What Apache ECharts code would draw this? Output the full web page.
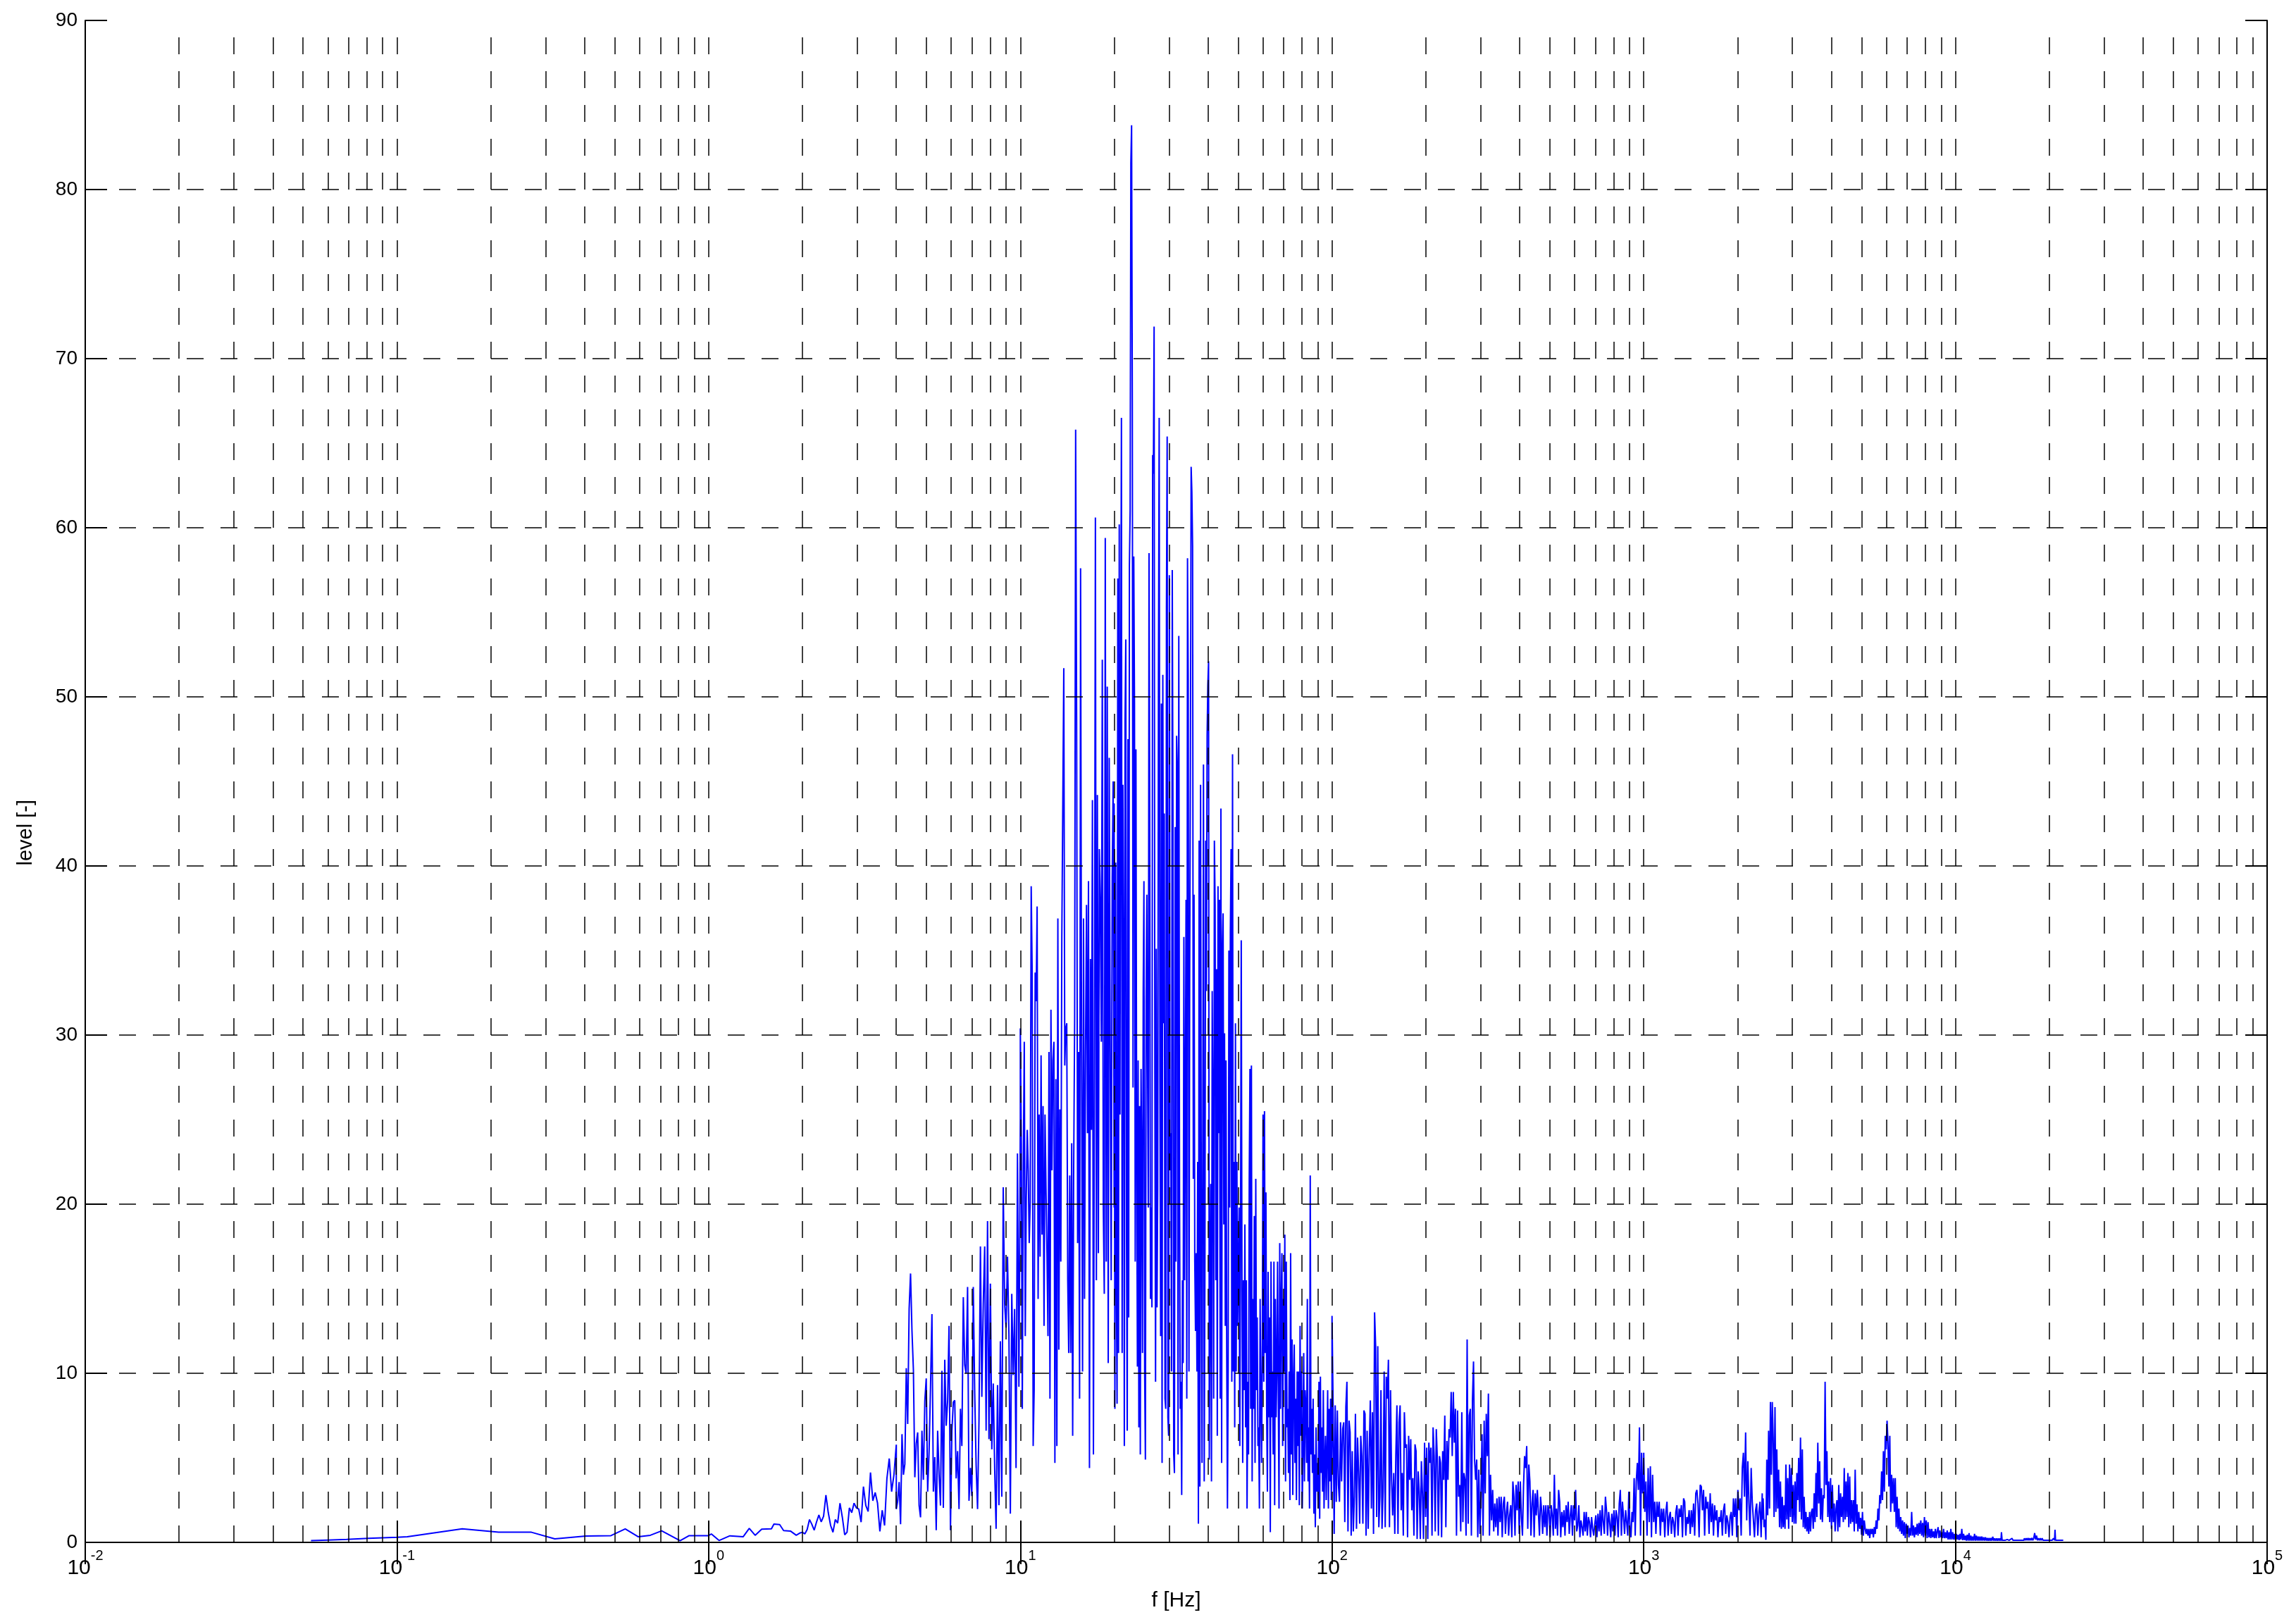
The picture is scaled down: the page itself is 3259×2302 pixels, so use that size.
<!DOCTYPE html>
<html>
<head>
<meta charset="utf-8">
<script src="https://cdn.jsdelivr.net/npm/echarts@6/dist/echarts.min.js"></script>
<style>
  html, body { margin: 0; padding: 0; background: #fff; }
  #chart { width: 3259px; height: 2302px; }
</style>
</head>
<body>
<div id="chart"></div>
<script>
// low frequency part, vertices read one by one
const lowFreq = [0.053, 0.06, 0.069, 0.081, 0.1, 0.108, 0.162, 0.212, 0.27, 0.321, 0.404, 0.486, 0.54, 0.595, 0.65, 0.707, 0.81, 0.866, 1.0, 1.02, 1.08, 1.17, 1.29, 1.35, 1.41, 1.48, 1.59, 1.62, 1.69, 1.74, 1.83, 1.91, 1.96]
const lowLevel = [0.1, 0.14, 0.18, 0.24, 0.3, 0.33, 0.8, 0.6, 0.6, 0.21, 0.37, 0.4, 0.8, 0.33, 0.42, 0.68, 0.1, 0.4, 0.4, 0.5, 0.11, 0.39, 0.33, 0.83, 0.42, 0.78, 0.8, 1.08, 1.05, 0.7, 0.67, 0.42, 0.55]

// dense parts: levels read left to right, evenly spread (log) over each band
const lv2to4 = [0.6, 0.5, 0.76, 1.35, 1.07, 0.72, 1.21, 1.62, 1.21, 1.55, 2.8, 1.76, 1.0, 0.6, 1.35, 1.14, 2.32, 1.48, 0.45, 0.6, 2.04, 1.76, 2.32, 2.04, 1.97, 1.2, 3.3, 2.18, 1.83, 4.13, 2.46, 2.95, 2.32, 0.65, 1.9, 1.0, 3.78, 4.96, 3.0, 4.0, 5.78]
const lv4to10 = [1.97, 2.46, 3.57, 1.07, 6.4, 4.0, 4.63, 10.3, 7.0, 13.8, 15.9, 12.5, 10.2, 3.85, 5.85, 6.5, 2.18, 1.48, 6.6, 3.7, 8.35, 9.7, 3.0, 5.4, 9.2, 13.5, 3.0, 5.04, 0.72, 6.6, 4.0, 2.18, 10.15, 2.04, 10.8, 6.9, 8.35, 12.8, 0.72, 6.6, 8.3, 8.4, 3.78, 5.4, 1.97, 7.9, 5.7, 14.5, 10.5, 10.0, 15.1, 2.46, 4.4, 2.74, 15.1, 8.85, 4.55, 1.97, 7.2, 17.5, 8.6, 14.1, 17.5, 6.6, 19, 6.1, 15.3, 5.5, 9.4, 4.4, 0.8, 9.3, 2.2, 11.9, 2.7, 21, 14.1, 12.7, 16.9, 12.3, 1.7, 14.7, 9.9, 13.8, 4.4, 23, 9.2, 25]
const lv10to20 = [30.4, 23.6, 7.9, 22.3, 29.6, 12.2, 20.4, 24.4, 22, 17.7, 20.1, 38.8, 33.7, 5.7, 9, 33.7, 32, 37.6, 14.4, 25.3, 16.9, 28.8, 18.2, 25.8, 12.8, 25.3, 20.9, 17.1, 12.2, 29, 8.5, 31.5, 22, 28.5, 29.6, 4.7, 27.4, 5.7, 36.9, 11.4, 25.6, 16.6, 35.8, 43.7, 51.7, 28.2, 30.4, 30.7, 15.5, 11.2, 21.7, 11.2, 23.6, 6.3, 22, 30.9, 65.8, 48.8, 17.7, 29, 8.5, 57.6, 28.8, 10.1, 36.9, 14.4, 29, 37.7, 24.2, 39.1, 4.4, 34.5, 24.4, 43.9, 5.2, 27.4, 60.6, 15.5, 44.2, 17.1, 41, 38, 29.6, 52.2, 19.8, 14.7, 59.4, 16.6, 50.6, 10.6, 46.4, 29, 15.5, 39.3, 45, 19.8]
const lv20to100 = [
  43.7, 7.9, 40.2, 16, 8.2, 57, 11.2, 60.2, 25.3, 49.6, 66.5, 11.2, 44.8, 34.5, 5.7, 48.6, 53.4, 18.2, 6.6, 47.5, 13.3, 57.8, 61, 81.6, 83.8, 67.3, 26.9, 58.3, 49.6, 16.6, 46.9, 23.6, 10.4, 28.5, 6.8, 25.8, 5.2, 28, 22.5, 11.2, 32.6, 39.1, 10.1, 4.9, 32, 38.3, 28, 19.8, 58.5, 41.8, 14.4, 19.8, 13.9, 64.3, 63.2, 71.9, 27.7, 9.5, 35.1, 13.9, 20.9, 51.5, 66.5, 27.4, 12.2, 49.6, 4.7, 51.3, 30.7, 43.1, 8.5, 7.9, 55.3,
  65.4, 7.4, 6.3, 57.2, 22, 24.2, 10.1, 57.5, 42.6, 5.2, 4.1, 42.3, 16.6, 47.7, 45.9, 5.2, 53.6, 20.9, 7.9, 9.5, 2.8, 15.5, 10.6, 35.8, 15.5, 25.8, 38, 8.5, 58.2, 51, 10.1, 33.4, 45.9, 63.6, 62.1, 58.9, 21.5, 38.3, 16.6, 12.5, 17.1, 10.1, 22.5, 1.1, 41.5, 3.3, 44.8, 19.3, 4.7, 23.1, 46, 3.6, 16.6, 41.5, 32.6, 47.7,
  50.7, 52.1, 4.9, 15, 21.2, 3.6, 32.6, 25.3, 8.5, 41.5, 37.7, 15.5, 33.9, 6.3, 38.8, 24.2, 38, 8.5, 43.4, 4.7, 35.1, 37.2, 18.8, 30.1, 12.8, 28.5, 11.2, 2, 10.1, 35, 19.8, 36.1, 41, 9.5, 46.6, 10.1, 22.5, 6.8, 30.7, 10.1, 22.5, 12.8,
  16, 19.8, 5.7, 18.2, 35.6, 15, 4.7, 15.5, 9, 18.8, 6.8, 15.5, 2, 9.5, 5.2, 21.5, 28, 7.9, 28.2, 3.6, 14.4, 7.9, 19.3, 4.7, 21.5, 9, 13.3, 5.7, 6.8, 2, 14.4, 8.5, 4.7, 11.7, 25.3,
  9.5, 25.5, 11.2, 20.7, 7.9, 3, 16, 7.4, 13.3, 0.6, 16.6, 7.4, 10.1, 5.2, 16.6, 2.2, 14.4, 7.4, 10.1, 16.6, 9, 2, 17.7, 7.9, 14.4, 17.1, 5.7, 14.4, 10.1, 18.2, 3.6, 16.6, 6.8, 7.9, 4.1, 10.1, 2.5, 17.1, 5.2, 12, 2.8, 9.5, 11.7, 4.7, 8.5, 2.5, 10.1, 5.7, 10.1, 2.2, 12.8, 6.3, 10.1, 2, 5.7, 11.2, 3.6, 9, 7.9, 4.7, 14.4, 3.6, 6.8, 2, 21.7, 5.2, 7.9, 4.1, 8.5, 1.7, 5.2, 0.9, 6.8, 3, 4.7, 2, 9.5, 1.4, 9.8, 4.1, 6.8, 3, 9, 2, 4.7, 6.3, 2.5, 5.2, 9, 2, 7.9, 3.6, 8.5, 2.5, 5.7
]
const lv100to1k = [
  13.4, 8.2, 0.5, 8.1, 2.4, 7.8, 3.4, 2.4, 7.1, 3.6, 6.7, 7.1, 1.2, 8, 9.5, 0.65, 7.2, 6.5, 0.4, 5.4, 0.65, 2.7, 7.6, 0.8, 6.2, 4.2, 1.1, 6.3, 5.1, 1.1, 7.8, 7.6, 0.4, 6.6, 0.8, 5.5, 8.4, 2, 7.7, 0.5, 13.6, 11.6, 1.5, 11.6, 0.9, 2.7, 9, 0.8, 3, 10.1, 0.9, 9.8, 8.5, 10.8, 0.9, 9, 3.7, 1.6, 4.1, 0.5, 5.2, 8.1, 0.5, 7.1, 8.1, 1.9, 4.1, 0.4, 7.7, 5.6, 5.8, 0.3, 6.3, 3.7, 6.1, 1.9, 3.8, 0.4, 5.8, 5.4, 0.2, 4.2, 3, 0.2, 4.8, 2.9, 0.2, 5.9,
  1.5, 5.6, 0.2, 5.9, 4.7, 5.6, 0.4, 6.8, 5.1, 0.65, 6.7, 4.9, 0.4, 5.1, 4.7, 0.3, 5.4, 3.7, 7.5, 0.9, 6, 3.7, 6.7, 6.2, 8.9, 5.1, 8.9, 5.9, 7.9, 0.4, 7.8, 2.7, 3.4, 0.65, 7.7, 1.2, 4.1, 3.7, 0.4, 12, 1.1, 7.5, 7.9, 0.4, 8.4, 10.7, 4.9, 3.7, 4.9, 0.3, 4.3, 0.5, 2.7, 6.4, 0.4, 7.2, 2.9, 7.6, 5.1, 8.8, 0.4, 4,
  1.3, 3.1, 0.65, 2.3, 0.9, 2.6, 0.4, 2.7, 1.2, 2.7, 0.3, 2.3, 2.7, 0.5, 1.8, 2.4, 0.4, 1.6, 2.2, 0.3, 3.6, 2.7, 0.4, 3.4, 1.9, 3.6, 0.5, 3.6, 1.5, 0.4, 3.3, 5.1, 4.4, 5.7, 0.8, 4.6, 3.6, 0.4, 2.3, 3.1, 0.3, 2.9, 1.6, 3.1, 3.1, 0.4, 2.7, 1.9, 0.5, 2.2, 0.9, 2.2, 0.4, 2.2, 1.9, 0.3, 2.2, 1.6, 0.4, 4, 0.8, 2, 0.4, 3.1, 2.4, 0.3, 1.8, 0.9, 1.9, 0.4, 2.2, 1.2, 2.4, 0.5, 1.6, 2.2, 0.4, 2.2, 1.3, 3.1, 0.65, 1, 2.2, 0.3, 1.3, 0.9, 0.4, 1.8, 0.65, 1.8, 0.4, 1.5, 1.2, 0.3, 1.5, 0.8, 0.4, 1.1, 1.6, 0.3, 1.7, 0.65, 1.9, 0.4, 2.2, 1.2, 0.5, 2.7, 1.9, 0.4, 1.8, 1.2, 0.3, 1.7, 0.65, 1.9, 0.4, 1.9, 1.5, 0.3, 2.3, 3.1, 0.4, 2.4, 1.5, 0.5, 1.9, 1.2, 0.4, 3, 0.9, 0.3, 1.8, 1.2, 3.8, 0.4, 3.6, 4.7, 3.1, 6.8, 0.4, 5.3, 2.9, 3.7
]
const lv1kto2k4 = [5.3, 1.8, 3.6, 0.4, 4.4, 1.2, 4.5, 0.3, 4, 1.2, 2.4, 0.5, 2.4, 1.5, 2.4, 0.4, 2, 1.2, 2, 0.3, 1.8, 2.4, 0.4, 1.5, 1.8, 0.5, 1.5, 1.2, 0.3, 1.8, 2.2, 0.4, 2, 1.5, 2.2, 0.3, 2.6, 2.4, 0.4, 1.5, 1.1, 1.9, 0.5, 1.9, 0.9, 2.3, 0.4, 2.9, 3.1, 2.3, 0.3, 3.4, 3.3, 1.9, 3.1, 0.4, 2.7, 2, 2.4, 0.5, 2.9, 1.2, 2.3, 0.4, 2.2, 1.3, 1.9, 0.3, 1.5, 1.2, 1.9, 0.4, 1.9, 2.3, 0.5, 1.6, 1.2, 0.3, 1.5, 1.8, 0.4, 2.6, 1.5, 2.6, 0.3, 3.1, 1.9, 2.6, 0.4, 4.4, 5.3, 2.7, 6.5, 1.3, 4.8, 2.3, 0.4, 4.4, 2.4, 2.4, 0.3, 1.9, 2.3, 0.4, 1.8, 2.4, 0.3, 2.9]
const lv2k4to14k = [1.35, 2.6, 0.9, 1.35, 0.15, 4.9, 1.6, 6.6, 2, 8.3, 4, 8.3, 6.2, 1.5, 8, 1.8, 5.5, 2, 4.3, 0.9, 3.6, 0.8, 2.7, 0.9, 2.2, 0.8, 4.6, 1.35, 3.8, 0.8, 4.6, 1.5, 4.4, 1.2, 3.4, 1.1, 3.6, 1.1, 4.1, 2.5, 5, 1.8, 6.2, 1.35, 5.5, 0.9, 2.7, 0.8, 1.8, 0.65, 1.5, 0.5, 1.8, 0.65, 1.8, 2, 0.8, 2.9, 1.2, 4.1, 1.5, 5.9, 2.3, 4.8, 1.35, 3.2, 1.2, 2.8, 2.6, 9.5, 3.4, 5.4, 1.5, 3.6, 1.2, 3.8, 0.8, 3.4, 1.2, 2.3, 0.65, 2, 2.5, 0.65, 3.4, 0.9, 2.9, 1.5, 2.7, 1.2, 4.4, 1.35, 3.6, 1.5, 4.1, 0.9, 3.9, 1.1, 2.5, 1.2, 2.5, 0.65, 4.3, 1.1, 2.25, 0.65, 1.8, 0.8, 1.45, 0.45, 1.8, 0.4, 1.3, 0.8, 0.5, 0.8, 0.4, 0.8, 0.25, 0.8, 0.5, 0.8, 0.3, 0.9, 0.5, 1.3, 0.8, 2, 1.3, 2.8, 2.3, 4.2, 2.5, 5.4, 3, 6.3, 5.5, 7.2, 5.9, 3.3, 6.3, 1.8, 4, 2.3, 3.8, 1.8, 3.8, 0.9, 2.7, 0.8, 2, 0.65, 1.5, 0.5, 1.3, 0.4, 1.2, 0.25, 1.1, 0.5, 1, 0.3, 0.85, 0.4, 1.8, 0.4, 1, 0.3, 0.9, 0.45, 1.1, 0.4, 1.15, 0.5, 1.3, 0.4, 1.15, 0.3, 1.5, 0.4, 1.3, 0.25, 1.2, 0.3, 0.8, 0.25, 0.8, 0.3, 0.65, 0.25, 0.8, 0.25, 0.65, 0.9, 0.25, 0.7, 0.3, 0.6, 0.25, 0.8, 0.25, 0.6, 0.25, 0.7, 0.17, 0.6, 0.17, 0.8, 0.17, 0.6, 0.17, 0.5, 0.13, 0.5, 0.17, 0.45, 0.13, 0.5, 0.17, 0.8, 0.13, 0.5, 0.13, 0.4, 0.1, 0.45, 0.1, 0.55, 0.1, 0.4, 0.1, 0.35, 0.1, 0.5, 0.1, 0.4, 0.1, 0.35, 0.1, 0.35, 0.1, 0.35, 0.1, 0.3, 0.1, 0.3, 0.1, 0.26, 0.1, 0.26, 0.1, 0.26, 0.1, 0.33, 0.1, 0.24, 0.1, 0.24, 0.1, 0.24, 0.1, 0.24, 0.1]

// high frequency tail, vertices read one by one
const tailFreq = [14050, 14120, 14420, 14670, 14770, 14870, 15190, 15300, 16580, 16640, 16750, 16870, 16990, 17100, 17220, 17340, 17460, 17580, 17710, 17830, 17960, 18080, 18210, 18330, 18460, 18590, 18720, 18850, 18980, 19110, 19250, 20420, 20630, 20730, 20800, 20870, 20950, 22180]
const tailLevel = [0.6, 0.12, 0.12, 0.17, 0.24, 0.12, 0.24, 0.12, 0.12, 0.24, 0.12, 0.24, 0.12, 0.26, 0.12, 0.24, 0.12, 0.26, 0.12, 0.24, 0.55, 0.17, 0.4, 0.12, 0.24, 0.12, 0.24, 0.12, 0.24, 0.12, 0.12, 0.12, 0.24, 0.3, 0.12, 0.75, 0.12, 0.12]

const bands = [
  [2, 4, lv2to4],
  [4, 10, lv4to10],
  [10, 20, lv10to20],
  [20, 100, lv20to100],
  [100, 1000, lv100to1k],
  [1000, 2400, lv1kto2k4],
  [2400, 14000, lv2k4to14k],
]

const yTicks = [0, 10, 20, 30, 40, 50, 60, 70, 80, 90]

const points = []
lowFreq.forEach((f, i) => points.push([f, lowLevel[i]]))
bands.forEach(([fa, fb, lv]) => {
  const n = lv.length
  lv.forEach((v, i) => {
    points.push([fa * Math.pow(fb / fa, i / (n - 1)), v])
  })
})
tailFreq.forEach((f, i) => points.push([f, tailLevel[i]]))

// grid lines at 1..9 x 10^k, drawn on top like the original
const vLines = []
for (let e = -2; e <= 4; e++) {
  for (let m = 1; m <= 9; m++) {
    const v = m * Math.pow(10, e)
    if (v > 0.0100001 && v < 99999) vLines.push({ xAxis: v })
  }
}
const hLines = yTicks.filter((t) => t > 0 && t < 90).map((t) => ({ yAxis: t }))

const font = 'Liberation Sans, Arial, sans-serif'
const dash = [24, 24]

const option = {
  animation: false,
  backgroundColor: '#ffffff',
  textStyle: { fontFamily: font, color: '#000' },
  grid: { left: 121, right: 41, top: 29, bottom: 113 },
  xAxis: [
    {
      type: 'log',
      logBase: 10,
      min: 0.01,
      max: 100000,
      splitNumber: 7,
      position: 'bottom',
      name: 'f [Hz]',
      nameLocation: 'middle',
      nameGap: 68,
      nameTextStyle: { fontSize: 30, color: '#000', fontFamily: font },
      axisLine: { show: true, lineStyle: { color: '#000', width: 2 } },
      axisTick: { show: true, inside: true, length: 31, lineStyle: { color: '#000', width: 2 } },
      splitLine: { show: false },
      axisLabel: {
        margin: 9,
        formatter: (v) => '{b|10}{s|' + Math.round(Math.log10(v)) + '}',
        rich: {
          b: { fontSize: 30, fontFamily: font, color: '#000', verticalAlign: 'top', padding: [13, 0, 0, 0] },
          s: { fontSize: 20, fontFamily: font, color: '#000', verticalAlign: 'top', padding: [0, 0, 0, 0] },
        },
      },
      z: 5,
    },
    {
      type: 'log',
      logBase: 10,
      min: 0.01,
      max: 100000,
      splitNumber: 7,
      position: 'top',
      axisLine: { show: true, lineStyle: { color: '#000', width: 2 } },
      axisTick: { show: true, inside: true, length: 31, lineStyle: { color: '#000', width: 2 } },
      axisLabel: { show: false },
      splitLine: { show: false },
      z: 5,
    },
  ],
  yAxis: [
    {
      type: 'value',
      min: 0,
      max: 90,
      interval: 10,
      position: 'left',
      name: 'level [-]',
      nameLocation: 'middle',
      nameGap: 70,
      nameTextStyle: { fontSize: 29, color: '#000', fontFamily: font, align: 'right', padding: [0, 26, 0, 0] },
      axisLine: { show: true, lineStyle: { color: '#000', width: 2 } },
      axisTick: { show: true, inside: true, length: 31, lineStyle: { color: '#000', width: 2 } },
      axisLabel: { fontSize: 28, color: '#000', margin: 11, fontFamily: font },
      splitLine: { show: false },
      z: 5,
    },
    {
      type: 'value',
      min: 0,
      max: 90,
      interval: 10,
      position: 'right',
      axisLine: { show: true, lineStyle: { color: '#000', width: 2 } },
      axisTick: { show: true, inside: true, length: 31, lineStyle: { color: '#000', width: 2 } },
      axisLabel: { show: false },
      splitLine: { show: false },
      z: 5,
    },
  ],
  series: [
    {
      type: 'line',
      xAxisIndex: 0,
      yAxisIndex: 0,
      data: points,
      symbol: 'none',
      showSymbol: false,
      lineStyle: { color: '#0000ff', width: 2 },
      itemStyle: { color: '#0000ff' },
      silent: true,
      markLine: {
        silent: true,
        symbol: ['none', 'none'],
        label: { show: false },
        lineStyle: { color: '#000', width: 1.5, type: dash },
        emphasis: { disabled: true },
        animation: false,
        data: vLines.concat(hLines),
      },
    },
  ],
}

const myChart = echarts.init(document.getElementById('chart'))
myChart.setOption(option)
</script>
</body>
</html>
